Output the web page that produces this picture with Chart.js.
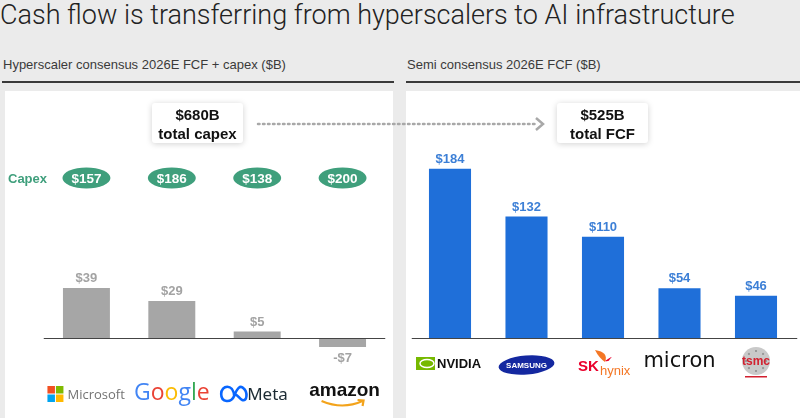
<!DOCTYPE html>
<html>
<head>
<meta charset="utf-8">
<script src="https://cdn.jsdelivr.net/npm/chart.js@4/dist/chart.umd.min.js"></script>
<style>
  body { margin: 0; background: #ebebeb; font-family: "Liberation Sans", Arial, sans-serif; }
  #wrap { position: relative; width: 800px; height: 418px; overflow: hidden; }
  #title { position: absolute; left: 0; top: -1px; font-family: Roboto, "Liberation Sans", sans-serif; font-weight: 300; font-size: 27px; color: #222; white-space: nowrap; }
  .head { position: absolute; top: 57px; font-size: 13px; color: #3a3a3a; white-space: nowrap; }
  .rule { position: absolute; top: 81px; height: 2px; background: #3a3a3a; }
  .panel { position: absolute; top: 91px; height: 327px; background: #fff; }
  canvas { position: absolute; }
  .box { position: absolute; top: 103px; width: 91px; height: 40px; background: #fff; box-shadow: 0 1px 6px rgba(0,0,0,0.18); border-radius: 3px; text-align: center; font-weight: bold; font-size: 15px; line-height: 19px; color: #111; padding-top: 2px; box-sizing: border-box; }
  svg { position: absolute; left: 0; top: 0; }
</style>
</head>
<body>
<div id="wrap">
  <div id="title">Cash flow is transferring from hyperscalers to AI infrastructure</div>
  <div class="head" style="left:3px">Hyperscaler consensus 2026E FCF + capex ($B)</div>
  <div class="head" style="left:407px">Semi consensus 2026E FCF ($B)</div>
  <div class="rule" style="left:2px; width:392px"></div>
  <div class="rule" style="left:406px; width:394px"></div>
  <div class="panel" style="left:5px; width:388px"></div>
  <div class="panel" style="left:406px; width:394px"></div>
  <canvas id="left" width="388" height="327" style="left:5px; top:91px"></canvas>
  <canvas id="right" width="394" height="327" style="left:406px; top:91px"></canvas>
  <svg width="800" height="418">
    <line x1="258" y1="124" x2="538" y2="124" stroke="#a8a8a8" stroke-width="2.5" stroke-dasharray="1.5 3.5" stroke-linecap="round"/>
    <polyline points="536,118 543,124 536,130" fill="none" stroke="#a8a8a8" stroke-width="2.5"/>
  </svg>
  <div class="box" style="left:152px">$680B<br>total capex</div>
  <div class="box" style="left:557px">$525B<br>total FCF</div>
</div>
<script>
const hyperscalers = ['Microsoft', 'Google', 'Meta', 'Amazon'];
const hyperFCF = [39, 29, 5, -7];
const hyperCapex = [157, 186, 138, 200];

const semis = ['NVIDIA', 'Samsung', 'SK hynix', 'Micron', 'TSMC'];
const semiFCF = [184, 132, 110, 54, 46];

function money(v) {
    return v < 0 ? '-$' + Math.abs(v) : '$' + v;
}

// value labels, zero line
const barLabels = {
    id: 'barLabels',
    afterDatasetsDraw(chart, args, opts) {
        const ctx = chart.ctx;
        const y0 = chart.scales.y.getPixelForValue(0);
        ctx.save();
        ctx.strokeStyle = '#444';
        ctx.lineWidth = 1;
        ctx.beginPath();
        ctx.moveTo(chart.chartArea.left, y0 + 0.5);
        ctx.lineTo(chart.chartArea.right + opts.extend, y0 + 0.5);
        ctx.stroke();
        ctx.fillStyle = opts.color;
        ctx.font = 'bold 13px "Liberation Sans", Arial, sans-serif';
        ctx.textAlign = 'center';
        const data = chart.data.datasets[0].data;
        chart.getDatasetMeta(0).data.forEach((bar, i) => {
            if (data[i] < 0) {
                ctx.textBaseline = 'top';
                ctx.fillText(money(data[i]), bar.x, bar.y + 5);
            } else {
                ctx.textBaseline = 'bottom';
                ctx.fillText(money(data[i]), bar.x, bar.y - 3);
            }
        });
        ctx.restore();
    }
};

// capex pills over the hyperscaler bars
const capexPills = {
    id: 'capexPills',
    afterDraw(chart) {
        if (chart.canvas.id !== 'left') return;
        const ctx = chart.ctx;
        const x = chart.scales.x;
        const cy = 87;
        ctx.save();
        ctx.font = 'bold 13px "Liberation Sans", Arial, sans-serif';
        ctx.fillStyle = '#3f9f7c';
        ctx.textAlign = 'left';
        ctx.textBaseline = 'middle';
        ctx.fillText('Capex', 3, cy + 1);
        ctx.font = 'bold 13.5px "Liberation Sans", Arial, sans-serif';
        hyperCapex.forEach((v, i) => {
            const cx = x.getPixelForValue(i);
            ctx.fillStyle = '#3f9f7c';
            ctx.beginPath();
            ctx.ellipse(cx, cy, 24, 10.5, 0, 0, Math.PI * 2);
            ctx.fill();
            ctx.fillStyle = '#fff';
            ctx.textAlign = 'center';
            ctx.fillText('$' + v, cx, cy + 1);
        });
        ctx.restore();
    }
};

function drawLogo(ctx, name, cx, cy) {
    ctx.save();
    ctx.textBaseline = 'middle';
    if (name === 'Microsoft') {
        const sx = cx - 39, s = 7.5;
        const cols = ['#f25022', '#7fba00', '#00a4ef', '#ffb900'];
        cols.forEach((c, k) => {
            ctx.fillStyle = c;
            ctx.fillRect(sx + (k % 2) * (s + 1), cy - s - 0.5 + Math.floor(k / 2) * (s + 1), s, s);
        });
        ctx.fillStyle = '#737373';
        ctx.font = '13px "Open Sans", sans-serif';
        ctx.textAlign = 'left';
        ctx.fillText('Microsoft', sx + 20, cy + 1);
    } else if (name === 'Google') {
        const letters = [['G', '#4285f4'], ['o', '#ea4335'], ['o', '#fbbc05'], ['g', '#4285f4'], ['l', '#34a853'], ['e', '#ea4335']];
        ctx.font = '500 23px "Open Sans", sans-serif';
        let w = 0;
        letters.forEach(l => { w += ctx.measureText(l[0]).width; });
        let px = cx - w / 2;
        ctx.textAlign = 'left';
        letters.forEach(l => {
            ctx.fillStyle = l[1];
            ctx.fillText(l[0], px, cy - 1);
            px += ctx.measureText(l[0]).width;
        });
    } else if (name === 'Meta') {
        ctx.strokeStyle = '#0866ff';
        ctx.lineWidth = 2.6;
        ctx.beginPath();
        const ix = cx - 23;
        ctx.moveTo(ix, cy + 2);
        ctx.bezierCurveTo(ix - 1, cy - 11, ix - 13, cy - 9, ix - 13, cy);
        ctx.bezierCurveTo(ix - 13, cy + 9, ix - 3, cy + 9, ix, cy + 2);
        ctx.bezierCurveTo(ix + 3, cy - 6, ix + 6, cy - 9, ix + 9, cy - 6);
        ctx.bezierCurveTo(ix + 14, cy - 2, ix + 13, cy + 8, ix + 8, cy + 6);
        ctx.bezierCurveTo(ix + 5, cy + 5, ix + 2, cy - 2, ix, cy + 2);
        ctx.stroke();
        ctx.fillStyle = '#1c2b33';
        ctx.font = '17px "Noto Sans", sans-serif';
        ctx.textAlign = 'left';
        ctx.fillText('Meta', cx - 10, cy + 1);
    } else if (name === 'Amazon') {
        ctx.fillStyle = '#111';
        ctx.font = 'bold 19px "Liberation Sans", Arial, sans-serif';
        ctx.textAlign = 'center';
        ctx.fillText('amazon', cx + 2, cy - 3);
        ctx.strokeStyle = '#f3a31b';
        ctx.lineWidth = 2.2;
        ctx.beginPath();
        ctx.moveTo(cx - 21, cy + 7);
        ctx.quadraticCurveTo(cx, cy + 16, cx + 20, cy + 7);
        ctx.stroke();
        ctx.beginPath();
        ctx.moveTo(cx + 15, cy + 6);
        ctx.lineTo(cx + 21, cy + 6.5);
        ctx.lineTo(cx + 20, cy + 12);
        ctx.stroke();
    } else if (name === 'NVIDIA') {
        ctx.fillStyle = '#76b900';
        ctx.fillRect(cx - 34, cy - 6, 19, 13);
        ctx.strokeStyle = '#fff';
        ctx.lineWidth = 1.5;
        ctx.beginPath();
        ctx.ellipse(cx - 23, cy + 0.5, 7, 4, 0, 0, Math.PI * 2);
        ctx.stroke();
        ctx.fillStyle = '#111';
        ctx.font = 'bold 13px "Liberation Sans", Arial, sans-serif';
        ctx.textAlign = 'left';
        ctx.fillText('NVIDIA', cx - 13, cy + 1);
    } else if (name === 'Samsung') {
        ctx.fillStyle = '#1428a0';
        ctx.beginPath();
        ctx.ellipse(cx, cy + 2, 28, 9.5, -0.08, 0, Math.PI * 2);
        ctx.fill();
        ctx.fillStyle = '#fff';
        ctx.font = 'bold 8px "Liberation Sans", Arial, sans-serif';
        ctx.textAlign = 'center';
        ctx.fillText('SAMSUNG', cx, cy + 2.5);
    } else if (name === 'SK hynix') {
        ctx.fillStyle = '#ea002c';
        ctx.font = 'bold 15px "Liberation Sans", Arial, sans-serif';
        ctx.textAlign = 'left';
        ctx.fillText('SK', cx - 25, cy + 4);
        ctx.fillStyle = '#f47725';
        ctx.font = '13px "Liberation Sans", Arial, sans-serif';
        ctx.fillText('hynix', cx - 3, cy + 8);
        ctx.beginPath();
        ctx.moveTo(cx - 8, cy - 13);
        ctx.quadraticCurveTo(cx + 6, cy - 11, cx + 2, cy - 1);
        ctx.quadraticCurveTo(cx - 4, cy - 5, cx - 8, cy - 13);
        ctx.fill();
        ctx.fillStyle = '#ea002c';
        ctx.beginPath();
        ctx.moveTo(cx + 2, cy - 2);
        ctx.quadraticCurveTo(cx + 12, cy - 9, cx + 7, cy - 4);
        ctx.quadraticCurveTo(cx + 6, cy - 1, cx + 2, cy - 2);
        ctx.fill();
    } else if (name === 'Micron') {
        ctx.fillStyle = '#111';
        ctx.font = '21px "DejaVu Sans", sans-serif';
        ctx.textAlign = 'center';
        ctx.fillText('micron', cx, cy - 1);
    } else if (name === 'TSMC') {
        ctx.fillStyle = '#c9c9c9';
        ctx.beginPath();
        ctx.arc(cx, cy - 2, 14, 0, Math.PI * 2);
        ctx.fill();
        ctx.fillStyle = '#999';
        for (let k = 0; k < 8; k++) {
            const a = k * Math.PI / 4;
            ctx.fillRect(cx + Math.cos(a) * 10 - 1, cy - 2 + Math.sin(a) * 10 - 1, 2, 2);
        }
        ctx.fillStyle = '#d2202f';
        ctx.font = 'bold 12px "Liberation Sans", Arial, sans-serif';
        ctx.textAlign = 'center';
        ctx.fillText('tsmc', cx, cy - 1);
        ctx.fillRect(cx - 11, cy + 13, 22, 1.5);
    }
    ctx.restore();
}

const logos = {
    id: 'logos',
    afterDraw(chart, args, opts) {
        const x = chart.scales.x;
        chart.data.labels.forEach((name, i) => {
            drawLogo(chart.ctx, name, x.getPixelForValue(i), opts.y);
        });
    }
};

Chart.register(barLabels, capexPills, logos);

const common = {
    responsive: false,
    animation: false,
    events: [],
    plugins: { legend: { display: false }, tooltip: { enabled: false } }
};

new Chart(document.getElementById('left'), {
    type: 'bar',
    data: {
        labels: hyperscalers,
        datasets: [{
            data: hyperFCF,
            backgroundColor: '#a6a6a6',
            categoryPercentage: 1,
            barPercentage: 0.55
        }]
    },
    options: {
        ...common,
        layout: { padding: { left: 38.75, right: 7.75, top: 170.2, bottom: 54.4 } },
        scales: {
            x: { display: false },
            y: { display: false, min: -20, max: 60 }
        },
        plugins: {
            ...common.plugins,
            barLabels: { color: '#a3a3a3', extend: 0 },
            logos: { y: 303 }
        }
    }
});

new Chart(document.getElementById('right'), {
    type: 'bar',
    data: {
        labels: semis,
        datasets: [{
            data: semiFCF,
            backgroundColor: '#1f6fd9',
            categoryPercentage: 1,
            barPercentage: 0.55
        }]
    },
    options: {
        ...common,
        layout: { padding: { left: 5.75, right: 5.75, top: 63, bottom: 80 } },
        scales: {
            x: { display: false },
            y: { display: false, min: 0, max: 200 }
        },
        plugins: {
            ...common.plugins,
            barLabels: { color: '#3c7fd6', extend: 3 },
            logos: { y: 272 }
        }
    }
});
</script>
</body>
</html>
